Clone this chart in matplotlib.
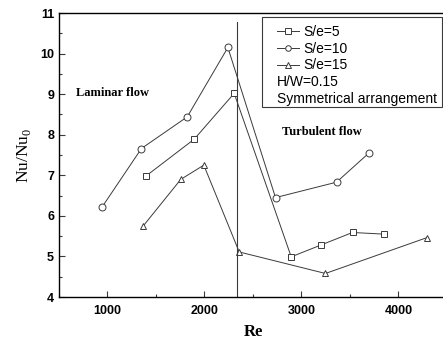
import matplotlib
matplotlib.use("Agg")
import matplotlib.pyplot as plt
from matplotlib.patches import Rectangle
from matplotlib.ticker import MultipleLocator

# data
re_se5 = [1396, 1894, 2306, 2894, 3199, 3526, 3849]
nu_se5 = [6.98, 7.89, 9.02, 4.99, 5.28, 5.59, 5.55]

re_se10 = [942, 1350, 1822, 2241, 2732, 3361, 3691]
nu_se10 = [6.21, 7.66, 8.44, 10.15, 6.45, 6.83, 7.54]

re_se15 = [1368, 1756, 1993, 2358, 3247, 4289]
nu_se15 = [5.75, 6.90, 7.25, 5.11, 4.58, 5.46]

re_transition = 2334
transition_span = [4.0, 10.78]

sans = ["Liberation Sans", "DejaVu Sans"]
serif = ["Liberation Serif", "DejaVu Serif"]
lc = "#3a3a3a"

fig = plt.figure(figsize=(4.43, 3.43), dpi=100)
ax = fig.add_axes([59/443, 46/343, 388/443, 284/343])

style = dict(color=lc, lw=0.7, mfc="white", mec=lc, mew=0.7, ms=5)
l1, = ax.plot(re_se5, nu_se5, marker="s", label="S/e=5", **style)
l2, = ax.plot(re_se10, nu_se10, marker="o", label="S/e=10", **style)
l3, = ax.plot(re_se15, nu_se15, marker="^", label="S/e=15", **style)

ax.plot([re_transition, re_transition], transition_span, color=lc, lw=0.8)

ax.set_xlim(500, 4500)
ax.set_ylim(4, 11)
ax.xaxis.set_major_locator(MultipleLocator(1000))
ax.xaxis.set_minor_locator(MultipleLocator(500))
ax.yaxis.set_major_locator(MultipleLocator(1))
ax.yaxis.set_minor_locator(MultipleLocator(0.5))
ax.tick_params(which="both", direction="in", length=4, width=0.8, color=lc)
ax.tick_params(which="minor", length=2.5)
ax.tick_params(axis="x", pad=6)
ax.spines["right"].set_visible(False)
for sp in ["left", "bottom", "top"]:
    ax.spines[sp].set_linewidth(1.0)
for lab in ax.get_xticklabels() + ax.get_yticklabels():
    lab.set_family(sans)
    lab.set_fontweight("bold")
    lab.set_fontsize(9)

ax.set_xlabel("Re", family=serif, fontweight="bold", fontsize=12, labelpad=5)
ax.set_ylabel(r"Nu/Nu$_\mathregular{0}$", family=serif, fontsize=12.5, labelpad=5)

ax.text(674, 9.02, "Laminar flow", family=serif, fontweight="bold",
        fontsize=9, va="center")
ax.text(2804, 8.07, "Turbulent flow", family=serif, fontweight="bold",
        fontsize=9, va="center")

# legend box
ax.add_patch(Rectangle((0.522, 0.668), 0.464, 0.317, transform=ax.transAxes,
                       fill=False, ec=lc, lw=0.8, zorder=5))
leg = ax.legend(handles=[l1, l2, l3], loc="upper left",
                bbox_to_anchor=(0.561, 0.958), frameon=False,
                prop={"family": sans, "size": 10}, handlelength=1.6,
                handletextpad=0.35, labelspacing=0.2, borderpad=0,
                borderaxespad=0, markerscale=0.8)
ax.text(0.561, 0.758, "H/W=0.15", transform=ax.transAxes, family=sans,
        fontsize=10, va="center")
ax.text(0.561, 0.697, "Symmetrical arrangement", transform=ax.transAxes,
        family=sans, fontsize=10, va="center")

fig.savefig("out.png", dpi=100)
